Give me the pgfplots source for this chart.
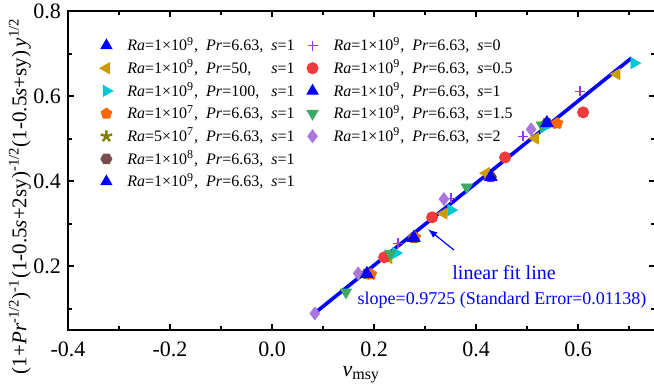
\documentclass[border=0pt]{standalone}
\usepackage{pgfplots}
\pgfplotsset{compat=1.18}
\usepackage{calc}
\usepackage{fontspec}
\setmainfont{Liberation Serif}
\usetikzlibrary{plotmarks}

\definecolor{cGold}{RGB}{205,155,0}
\definecolor{cCyan}{RGB}{0,200,210}
\definecolor{cOrange}{RGB}{255,102,0}
\definecolor{cOlive}{RGB}{128,128,0}
\definecolor{cBrown}{RGB}{122,78,78}
\definecolor{cPurple}{RGB}{153,51,255}
\definecolor{cRed}{RGB}{238,58,58}
\definecolor{cGreen}{RGB}{60,170,100}
\definecolor{cLav}{RGB}{170,119,221}
\definecolor{cBlue}{RGB}{0,0,255}

\pgfdeclareplotmark{hexagon*}{%
  \pgfpathmoveto{\pgfqpointpolar{0}{\pgfplotmarksize}}%
  \pgfpathlineto{\pgfqpointpolar{60}{\pgfplotmarksize}}%
  \pgfpathlineto{\pgfqpointpolar{120}{\pgfplotmarksize}}%
  \pgfpathlineto{\pgfqpointpolar{180}{\pgfplotmarksize}}%
  \pgfpathlineto{\pgfqpointpolar{240}{\pgfplotmarksize}}%
  \pgfpathlineto{\pgfqpointpolar{300}{\pgfplotmarksize}}%
  \pgfpathclose\pgfusepathqfillstroke}

\newcommand{\ent}[4]{\textit{Ra}=#1×10\textsuperscript{#2},\ \ \makebox[\widthof{\textit{Pr}=6.63,}][l]{\textit{Pr}=#3,}\ \ \textit{s}=#4}

\begin{document}
\begin{tikzpicture}
\begin{axis}[
  scale only axis,
  width=293.25pt, height=159.4pt,
  xmin=-0.4, xmax=0.75, ymin=0.05, ymax=0.8,
  axis line style={line width=0.9pt},
  tick style={line width=0.8pt, black},
  tick align=inside,
  major tick length=3pt, minor tick length=2pt,
  xtick={-0.4,-0.2,0,0.2,0.4,0.6},
  xticklabels={-0.4,-0.2,0.0,0.2,0.4,0.6},
  minor xtick={-0.3,-0.1,0.1,0.3,0.5,0.7},
  ytick={0.2,0.4,0.6,0.8},
  yticklabels={0.2,0.4,0.6,0.8},
  minor ytick={0.1,0.3,0.5,0.7},
  ticklabel style={font=\fontsize{11}{13}\selectfont},
  xticklabel style={yshift=-2.5pt},
  xlabel={\fontsize{11}{13}\selectfont\textit{v}\textsubscript{\fontsize{8}{9}\selectfont msy}},
  xlabel style={at={(axis description cs:0.5,0)}, anchor=north, yshift=-14.5pt},
  ylabel={\fontsize{10.5}{12}\selectfont(1+\textit{Pr}\textsuperscript{-1/2})\textsuperscript{-1}(1-0.5\textit{s}+2sy)\textsuperscript{-1/2}(1-0.5\textit{s}+sy)\,\textit{y}\textsuperscript{1/2}},
  ylabel style={at={(axis description cs:-0.082,0.42)}, anchor=center},
  legend image code/.code={%
    \draw[#1] plot coordinates {(5pt,0pt)};
    \path[draw=none, fill=none, use as bounding box] (0pt,-5.67pt) rectangle (10pt,5.67pt);},
  legend columns=7, transpose legend,
  legend cell align=left,
  legend style={at={(rel axis cs:0,1)}, anchor=north west, xshift=14pt, yshift=-11.3pt,
    draw=none, fill=none, inner sep=0pt, row sep=0pt,
    font=\fontsize{8}{9.6}\selectfont,
    column sep=5.5pt,
    /tikz/every even column/.append style={column sep=4pt},
    nodes={inner sep=0pt}},
]
% legend entries
\addlegendimage{mark=triangle*, mark size=3.2pt, cBlue, mark options={fill=cBlue, draw=cBlue}}
\addlegendentry{\ent{1}{9}{6.63}{1}}
\addlegendimage{mark=triangle*, mark size=3.2pt, cGold, mark options={rotate=90, fill=cGold, draw=cGold}}
\addlegendentry{\ent{1}{9}{50}{1}}
\addlegendimage{mark=triangle*, mark size=3.2pt, cCyan, mark options={rotate=-90, fill=cCyan, draw=cCyan}}
\addlegendentry{\ent{1}{9}{100}{1}}
\addlegendimage{mark=pentagon*, mark size=2.8pt, cOrange, mark options={fill=cOrange, draw=cOrange}}
\addlegendentry{\ent{1}{7}{6.63}{1}}
\addlegendimage{mark=star, mark size=3pt, cOlive, mark options={fill=cOlive, draw=cOlive, line width=1.2pt}}
\addlegendentry{\ent{5}{7}{6.63}{1}}
\addlegendimage{mark=hexagon*, mark size=2.8pt, cBrown, mark options={fill=cBrown, draw=cBrown}}
\addlegendentry{\ent{1}{8}{6.63}{1}}
\addlegendimage{mark=triangle*, mark size=3.2pt, cBlue, mark options={fill=cBlue, draw=cBlue}}
\addlegendentry{\ent{1}{9}{6.63}{1}}
\addlegendimage{mark=+, mark size=2.5pt, cPurple, mark options={draw=cPurple, line width=0.6pt}}
\addlegendentry{\ent{1}{9}{6.63}{0}}
\addlegendimage{mark=*, mark size=2.8pt, cRed, mark options={fill=cRed, draw=cRed}}
\addlegendentry{\ent{1}{9}{6.63}{0.5}}
\addlegendimage{mark=triangle*, mark size=3.2pt, cBlue, mark options={fill=cBlue, draw=cBlue}}
\addlegendentry{\ent{1}{9}{6.63}{1}}
\addlegendimage{mark=triangle*, mark size=3.2pt, cGreen, mark options={rotate=180, fill=cGreen, draw=cGreen}}
\addlegendentry{\ent{1}{9}{6.63}{1.5}}
\addlegendimage{mark=diamond*, mark size=3.2pt, cLav, mark options={fill=cLav, draw=cLav}}
\addlegendentry{\ent{1}{9}{6.63}{2}}
\addlegendimage{empty legend}
\addlegendentry{}
\addlegendimage{empty legend}
\addlegendentry{}

% data (hidden series first)
\addplot[forget plot, only marks, mark=hexagon*, mark size=2.8pt, cBrown, mark options={fill=cBrown, draw=cBrown}]
  coordinates {(0.186,0.182) (0.278,0.267) (0.429,0.410) (0.539,0.537)};
\addplot[forget plot, only marks, mark=star, mark size=3pt, cOlive, mark options={fill=cOlive, draw=cOlive, line width=1.2pt}]
  coordinates {(0.194,0.181) (0.280,0.268) (0.425,0.414) (0.559,0.536)};
\addplot[forget plot, only marks, mark=pentagon*, mark size=2.8pt, cOrange, mark options={fill=cOrange, draw=cOrange}]
  coordinates {(0.194,0.181) (0.280,0.268) (0.425,0.414) (0.559,0.536)};
\addplot[forget plot, only marks, mark=triangle*, mark size=3.2pt, cGold, mark options={rotate=90, fill=cGold, draw=cGold}]
  coordinates {(0.229,0.219) (0.337,0.324) (0.420,0.419) (0.516,0.501) (0.676,0.652)};
\addplot[forget plot, only marks, mark=triangle*, mark size=3.2pt, cCyan, mark options={rotate=-90, fill=cCyan, draw=cCyan}]
  coordinates {(0.243,0.231) (0.351,0.332) (0.533,0.527) (0.710,0.678)};
\addplot[forget plot, only marks, mark=+, mark size=2.5pt, cPurple, mark options={draw=cPurple, line width=0.6pt}]
  coordinates {(0.247,0.254) (0.351,0.360) (0.492,0.506) (0.604,0.612)};
\addplot[forget plot, only marks, mark=*, mark size=2.8pt, cRed, mark options={fill=cRed, draw=cRed}]
  coordinates {(0.220,0.221) (0.314,0.315) (0.457,0.456) (0.610,0.562)};
\addplot[forget plot, only marks, mark=triangle*, mark size=3.2pt, cGreen, mark options={rotate=180, fill=cGreen, draw=cGreen}]
  coordinates {(0.145,0.139) (0.232,0.230) (0.382,0.386) (0.529,0.532)};
\addplot[forget plot, only marks, mark=diamond*, mark size=3.2pt, cLav, mark options={fill=cLav, draw=cLav}]
  coordinates {(0.084,0.089) (0.169,0.183) (0.337,0.358) (0.508,0.522)};
% linear fit line
\addplot[forget plot, cBlue, line width=1.8pt] coordinates {(0.082,0.088) (0.705,0.690)};
% blue triangles (Ra=1e9, Pr=6.63, s=1)
\addplot[forget plot, only marks, mark=triangle*, mark size=3.6pt, cBlue, mark options={fill=cBlue, draw=cBlue}]
  coordinates {(0.186,0.182) (0.278,0.267) (0.429,0.410) (0.539,0.537)};

\draw[cBlue, line width=0.6pt, -latex] (axis cs:0.357,0.238) -- (axis cs:0.306,0.287);
\node[cBlue, font=\fontsize{10}{12}\selectfont] at (axis cs:0.455,0.186) {linear fit line};
\node[cBlue, font=\fontsize{9}{11}\selectfont] at (axis cs:0.451,0.120) {slope=0.9725 (Standard Error=0.01138)};
\end{axis}
\pgfresetboundingbox
\path[use as bounding box] (-34pt,-28pt) rectangle (293pt,165pt);
\end{tikzpicture}
\end{document}
